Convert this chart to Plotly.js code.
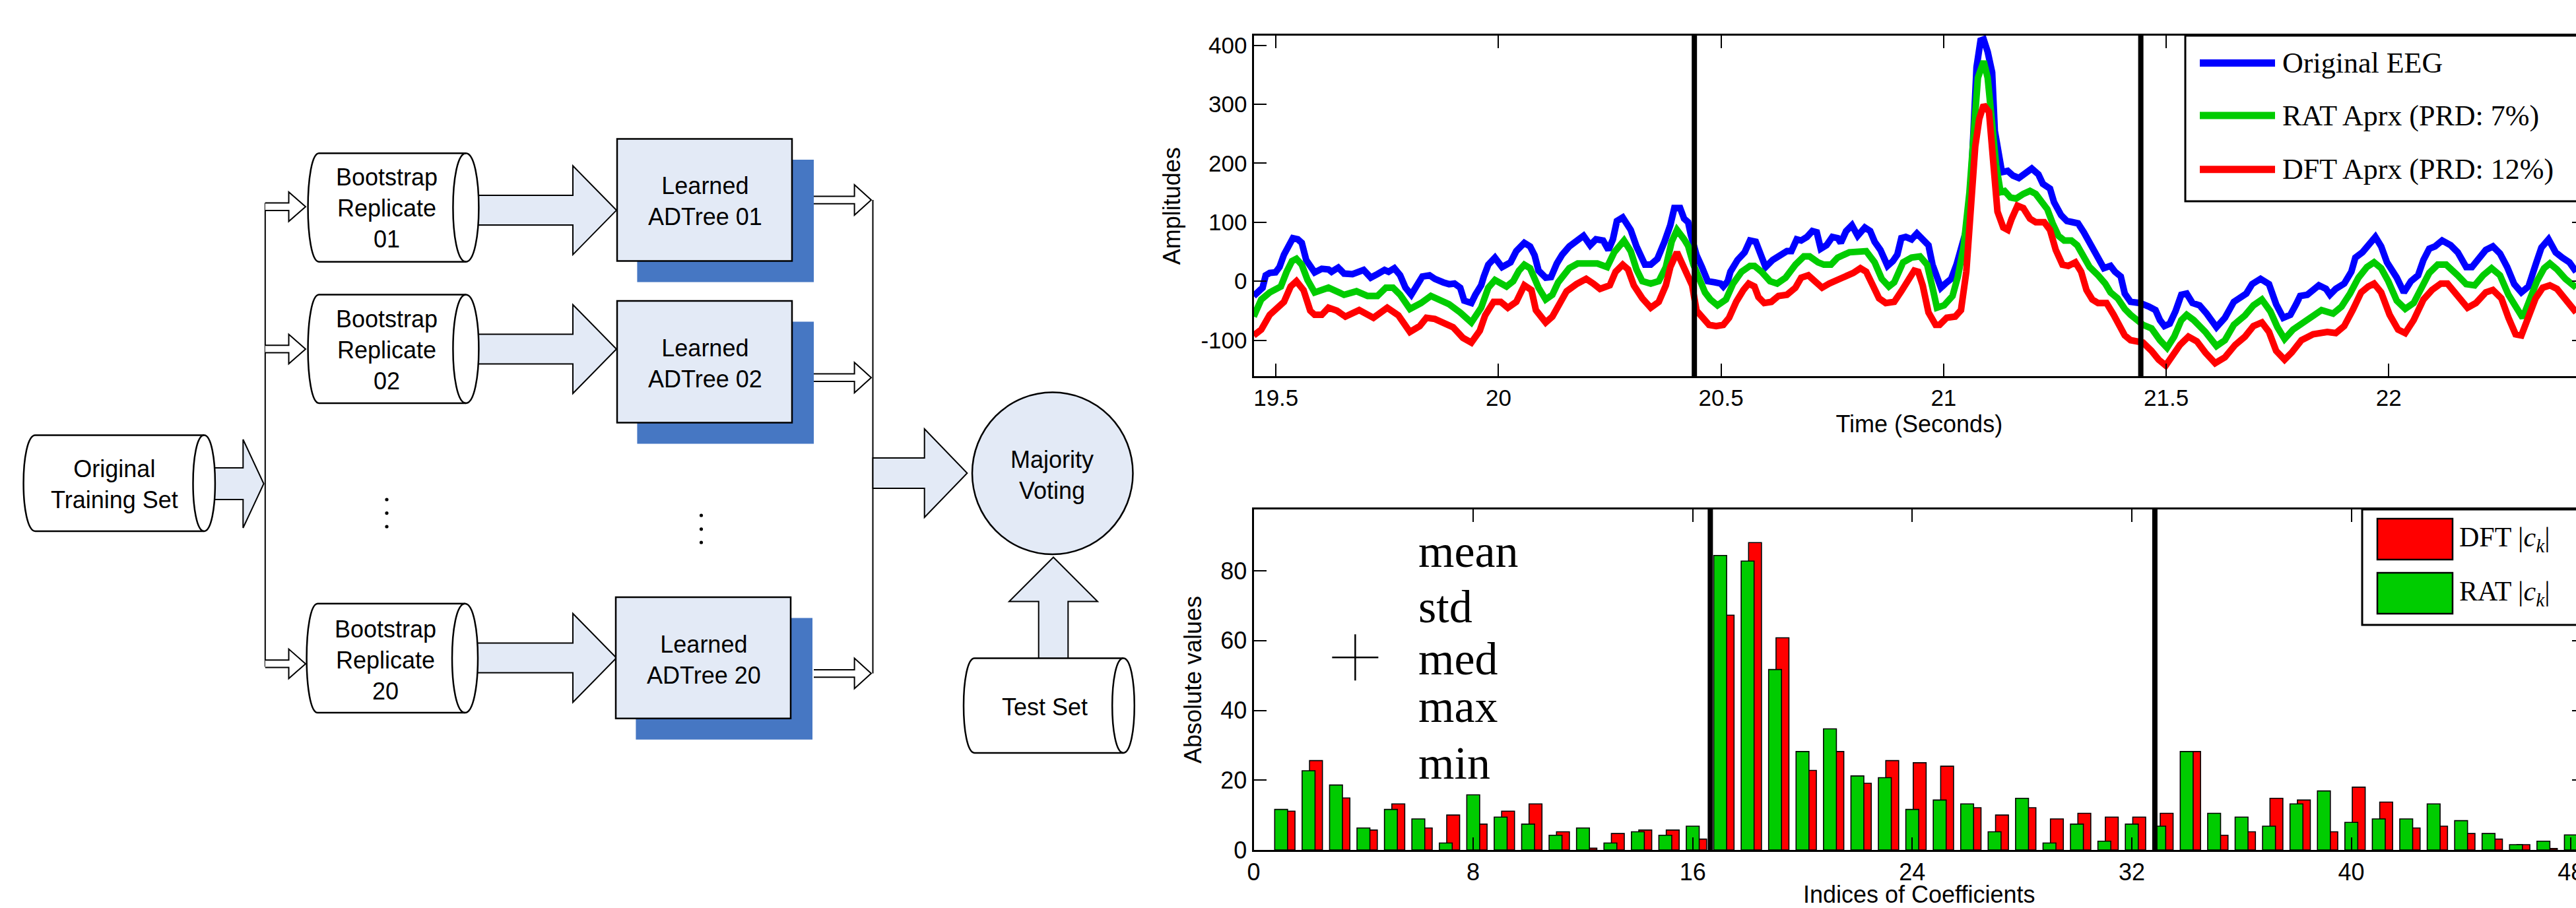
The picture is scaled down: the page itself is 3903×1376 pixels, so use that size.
<!DOCTYPE html>
<html><head><meta charset="utf-8">
<script src="https://cdn.plot.ly/plotly-3.0.1.min.js"></script>
<style>html,body{margin:0;padding:0;background:#fff;overflow:hidden;}#chart{width:3920px;height:1376px;}</style>
</head><body><div id="chart"></div>
<script>
// ---------------- DATA ----------------
const timeOriginal = [19.450,19.461,19.470,19.477,19.486,19.499,19.508,19.518,19.530,19.538,19.549,19.558,19.568,19.577,19.587,19.603,19.618,19.625,19.640,19.653,19.672,19.697,19.713,19.728,19.744,19.753,19.766,19.779,19.791,19.804,19.813,19.829,19.845,19.857,19.876,19.889,19.901,19.914,19.923,19.939,19.948,19.961,19.967,19.977,19.992,20.008,20.027,20.040,20.058,20.071,20.081,20.090,20.106,20.118,20.131,20.143,20.159,20.175,20.191,20.206,20.219,20.235,20.247,20.257,20.266,20.279,20.297,20.310,20.329,20.342,20.357,20.373,20.386,20.395,20.408,20.417,
20.426,20.432,20.445,20.457,20.470,20.486,20.499,20.505,20.515,20.521,20.537,20.553,20.565,20.578,20.588,20.600,20.616,20.632,20.648,20.658,20.670,20.680,20.693,20.705,20.715,20.724,20.737,20.750,20.762,20.769,20.781,20.794,20.807,20.823,20.835,20.845,20.858,20.874,20.886,20.896,20.905,20.915,20.928,20.940,20.953,20.966,20.975,20.985,20.994,21.004,21.017,21.029,21.042,21.051,21.061,21.067,21.074,21.083,21.090,21.099,21.109,21.115,21.125,21.131,21.144,21.156,21.169,21.185,21.198,21.213,21.223,21.239,21.248,21.264,21.277,21.290,21.302,21.315,21.328,21.344,21.360,21.375,21.385,21.398,21.407,21.420,
21.441,21.461,21.476,21.486,21.496,21.508,21.521,21.534,21.546,21.559,21.575,21.591,21.613,21.632,21.652,21.664,21.680,21.693,21.712,21.731,21.747,21.763,21.779,21.792,21.801,21.817,21.830,21.843,21.859,21.868,21.881,21.900,21.916,21.925,21.941,21.957,21.970,21.983,21.996,22.018,22.034,22.050,22.066,22.078,22.091,22.104,22.120,22.139,22.155,22.174,22.187,22.202,22.218,22.234,22.250,22.266,22.282,22.298,22.314,22.330,22.343,22.359,22.375,22.390,22.406,22.421];
const eegOriginal = [-25,-15,-11,10,14,15,24,45,59,73,71,65,36,24,15,21,20,16,23,13,12,19,6,12,19,16,22,10,-11,-23,-11,8,10,4,-2,-5,-4,-11,-33,-37,-23,-7,8,28,40,24,32,51,65,59,44,18,6,7,30,45,59,69,77,61,71,69,53,71,102,108,87,59,28,28,38,67,95,124,124,106,
100,79,44,24,0,-2,-4,-9,0,16,36,49,69,67,49,24,36,44,51,51,71,69,75,85,83,55,61,75,73,65,85,95,77,91,85,67,53,26,34,45,73,75,71,81,71,61,28,8,-11,-4,4,28,59,87,157,263,363,408,410,389,354,255,204,185,187,179,175,183,191,181,165,157,134,112,102,100,98,83,65,44,22,26,16,8,-21,-35,
-37,-43,-49,-66,-76,-72,-51,-23,-21,-37,-41,-55,-78,-62,-35,-29,-21,-5,4,-5,-39,-62,-57,-39,-25,-23,-15,-7,-13,-23,-13,-4,16,40,49,63,75,59,32,6,-19,0,10,36,55,59,69,61,49,24,24,38,53,59,47,24,-5,-19,-9,28,57,71,49,40,32,16];

const timeRat = [19.450,19.467,19.486,19.511,19.524,19.536,19.546,19.558,19.571,19.587,19.618,19.653,19.681,19.706,19.728,19.747,19.763,19.779,19.801,19.826,19.848,19.889,19.914,19.939,19.961,19.977,19.992,20.018,20.033,20.046,20.058,20.071,20.090,20.106,20.121,20.134,20.159,20.178,20.222,20.244,20.260,20.282,20.297,20.310,20.323,20.342,20.360,20.376,20.389,20.401,20.417,
20.426,20.438,20.451,20.464,20.476,20.492,20.511,20.527,20.546,20.565,20.575,20.591,20.610,20.626,20.645,20.667,20.686,20.699,20.718,20.731,20.747,20.762,20.788,20.807,20.826,20.845,20.861,20.877,20.889,20.909,20.928,20.947,20.963,20.975,20.985,21.001,21.020,21.032,21.045,21.058,21.067,21.077,21.090,21.099,21.109,21.118,21.128,21.137,21.150,21.163,21.179,21.194,21.207,21.220,21.233,21.245,21.258,21.271,21.287,21.300,21.312,21.328,21.347,21.363,21.375,21.391,21.407,21.420,
21.448,21.467,21.486,21.502,21.518,21.534,21.546,21.562,21.588,21.613,21.632,21.652,21.677,21.696,21.715,21.734,21.750,21.766,21.785,21.804,21.830,21.849,21.875,21.894,21.913,21.932,21.951,21.967,21.983,21.999,22.018,22.037,22.056,22.072,22.091,22.110,22.129,22.155,22.174,22.193,22.212,22.231,22.250,22.269,22.289,22.301,22.317,22.333,22.349,22.362,22.378,22.397,22.421];
const eegRat = [-60,-31,-19,-9,16,34,38,28,2,-19,-11,-23,-17,-25,-25,-11,-11,-23,-47,-37,-25,-39,-53,-70,-45,-11,2,-9,0,18,28,22,-11,-31,-23,-2,22,30,30,24,49,69,51,20,0,-4,0,24,67,87,71,
60,28,2,-19,-31,-41,-31,-4,16,26,26,16,0,-4,6,28,42,42,32,28,28,40,49,51,51,32,4,-9,-2,32,40,42,28,-11,-45,-41,-25,8,59,150,248,345,373,345,267,197,151,153,142,140,148,153,148,134,122,98,77,69,69,61,44,24,10,-4,-19,-29,-47,-57,
-74,-80,-100,-113,-94,-66,-57,-66,-86,-110,-100,-74,-58,-41,-31,-51,-78,-98,-82,-72,-58,-49,-55,-43,-21,6,24,32,22,0,-33,-47,-37,-11,14,28,28,10,-5,-7,10,22,10,-23,-51,-62,-31,0,22,30,20,4,-11];

const timeDft = [19.450,19.467,19.486,19.505,19.518,19.533,19.546,19.562,19.577,19.587,19.603,19.618,19.637,19.656,19.687,19.719,19.750,19.775,19.801,19.823,19.838,19.857,19.898,19.920,19.939,19.958,19.970,19.989,20.005,20.021,20.040,20.058,20.074,20.084,20.106,20.121,20.137,20.153,20.175,20.197,20.213,20.228,20.250,20.263,20.279,20.291,20.304,20.323,20.342,20.360,20.376,20.386,20.401,20.417,
20.426,20.435,20.445,20.461,20.473,20.489,20.505,20.518,20.534,20.550,20.562,20.575,20.584,20.597,20.613,20.629,20.648,20.667,20.680,20.696,20.712,20.727,20.743,20.762,20.781,20.797,20.813,20.826,20.839,20.855,20.870,20.889,20.905,20.921,20.934,20.943,20.953,20.966,20.982,20.991,21.007,21.026,21.039,21.051,21.061,21.071,21.080,21.090,21.102,21.112,21.121,21.134,21.144,21.153,21.166,21.179,21.194,21.207,21.226,21.239,21.252,21.267,21.280,21.296,21.309,21.321,21.334,21.347,21.366,21.382,21.395,21.407,21.420,
21.448,21.467,21.483,21.499,21.515,21.531,21.550,21.569,21.588,21.610,21.632,21.655,21.677,21.696,21.715,21.731,21.747,21.766,21.782,21.804,21.830,21.862,21.881,21.900,21.919,21.938,21.954,21.967,21.983,22.002,22.021,22.037,22.056,22.078,22.097,22.117,22.132,22.155,22.177,22.196,22.218,22.234,22.253,22.269,22.285,22.298,22.314,22.330,22.346,22.362,22.378,22.397,22.421];
const eegDft = [-92,-82,-57,-45,-35,-9,0,-15,-50,-57,-57,-45,-50,-60,-49,-62,-45,-58,-86,-76,-62,-64,-78,-96,-104,-84,-58,-35,-35,-45,-35,-7,-15,-49,-70,-60,-37,-17,-5,4,-4,-13,-7,16,28,20,-7,-29,-45,-35,-7,24,49,24,
8,-7,-50,-64,-74,-76,-74,-62,-35,-15,-4,-9,-27,-37,-35,-25,-23,-11,6,10,0,-11,-4,2,8,14,22,16,-4,-29,-37,-35,-17,2,18,16,-7,-53,-74,-74,-62,-60,-49,16,126,228,275,299,287,212,118,91,87,106,128,124,106,100,100,87,53,28,26,32,16,-15,-31,-37,-37,-57,-78,-92,-100,
-104,-118,-133,-143,-127,-108,-94,-102,-121,-139,-129,-108,-94,-76,-70,-86,-118,-133,-121,-100,-90,-86,-88,-76,-49,-19,-9,-4,-19,-57,-82,-88,-66,-31,-15,-4,-4,-27,-45,-37,-19,-15,-29,-62,-90,-92,-62,-29,-11,-7,-13,-29,-53];

const coefIndex = [1,2,3,4,5,6,7,8,9,10,11,12,13,14,15,16,17,18,19,20,21,22,23,24,25,26,27,28,29,30,31,32,33,34,35,36,37,38,39,40,41,42,43,44,45,46,47,48];
const ratCoef = [11.6,22.7,18.6,6.3,11.6,8.9,2.0,15.8,9.4,7.4,4.2,6.3,2.0,5.2,4.2,6.8,84.4,82.8,51.7,28.2,34.7,21.2,20.7,11.6,14.3,13.2,5.2,14.8,2.0,7.4,2.5,7.4,6.8,28.2,10.5,9.4,6.8,13.2,16.9,7.9,8.9,8.9,13.2,8.4,4.7,1.5,2.5,4.3];
const dftCoef = [11.1,25.6,14.9,5.7,13.2,6.3,10.0,7.4,11.1,13.2,5.2,0.5,4.7,5.7,5.7,3.1,67.3,88.1,60.8,22.8,28.2,19.1,25.6,25.0,24.0,12.1,10.0,12.1,8.9,10.5,9.4,9.4,10.5,28.2,4.2,5.2,14.8,14.3,5.2,18.0,13.7,6.3,6.8,4.7,3.1,1.5,0.4,1.0];

const timeTickVals = [19.5,20,20.5,21,21.5,22];
const timeTickText = ['19.5','20','20.5','21','21.5','22'];
const ampTickVals = [-100,0,100,200,300,400];
const ampTickText = ['-100','0','100','200','300','400'];
const idxTickVals = [0,8,16,24,32,40,48];
const absTickVals = [0,20,40,60,80];
const segmentTimes = [20.44, 21.443];
const segmentIdx = [16.64, 32.84];
const medMarkerIdx = [3.7];
const medMarkerVal = [55.2];
const statLabels = ['mean','std','med','max','min'];

const seriesNames = ['Original EEG','RAT Aprx (PRD: 7%)','DFT Aprx (PRD: 12%)'];
const barNames = ['DFT |<i>c</i><sub><i>k</i></sub>|','RAT |<i>c</i><sub><i>k</i></sub>|'];

// ---------------- STYLE ----------------
const W = 3920, H = 1376;
const SANS = 'Liberation Sans, Arial, sans-serif';
const SERIF = 'Liberation Serif, Times New Roman, serif';
const BLUE = '#0000FF', GREEN = '#00CC00', RED = '#FF0000';
const LIGHT = '#E3EAF6', SHADOW = '#4677C3';

const xDom = [0.48457, 0.99898];

const traces = [
  {type:'scatter', mode:'lines', x:timeOriginal, y:eegOriginal, name:seriesNames[0], line:{color:BLUE, width:10}, xaxis:'x', yaxis:'y', showlegend:false},
  {type:'scatter', mode:'lines', x:timeRat, y:eegRat, name:seriesNames[1], line:{color:GREEN, width:10}, xaxis:'x', yaxis:'y', showlegend:false},
  {type:'scatter', mode:'lines', x:timeDft, y:eegDft, name:seriesNames[2], line:{color:RED, width:10}, xaxis:'x', yaxis:'y', showlegend:false},
  {type:'bar', x:coefIndex, y:dftCoef, name:'DFT |ck|', width:0.47, offset:0.035, marker:{color:RED, line:{color:'#000', width:1.6}}, xaxis:'x2', yaxis:'y2', showlegend:false},
  {type:'bar', x:coefIndex, y:ratCoef, name:'RAT |ck|', width:0.47, offset:-0.235, marker:{color:GREEN, line:{color:'#000', width:1.6}}, xaxis:'x2', yaxis:'y2', showlegend:false},
  {type:'scatter', mode:'markers', x:medMarkerIdx, y:medMarkerVal, name:'med', marker:{symbol:'cross-thin', size:50, color:'#000', line:{color:'#000', width:2.5}}, xaxis:'x2', yaxis:'y2', showlegend:false, hoverinfo:'skip'},
  {type:'scatter', mode:'markers', x:[], y:[], xaxis:'x3', yaxis:'y3', showlegend:false, hoverinfo:'skip'}
];

function axisCommon(extra){
  return Object.assign({
    showline:true, linecolor:'#000', linewidth:3, mirror:'ticks',
    ticks:'inside', ticklen:19, tickwidth:2, tickcolor:'#000',
    showgrid:false, zeroline:false, fixedrange:true,
    tickfont:{family:SANS, size:36, color:'#000'}
  }, extra);
}

// ---------------- FLOWCHART GEOMETRY (pixel space on x3/y3) ----------------
function arrowRight(xs, xh, xt, c, hs, hh){
  return `M${xs},${c-hs} L${xh},${c-hs} L${xh},${c-hh} L${xt},${c} L${xh},${c+hh} L${xh},${c+hs} L${xs},${c+hs} Z`;
}
function openArrowRight(xs, xh, xt, c, hs, hh){
  return `M${xs},${c-hs} L${xh},${c-hs} L${xh},${c-hh} L${xt},${c} L${xh},${c+hh} L${xh},${c+hs} L${xs},${c+hs}`;
}
function arrowUp(cx, yb, yh, yt, hs, hh){
  return `M${cx-hs},${yb} L${cx-hs},${yh} L${cx-hh},${yh} L${cx},${yt} L${cx+hh},${yh} L${cx+hs},${yh} L${cx+hs},${yb} Z`;
}
function cylBody(xl, b, xr, rx, y0, y1){
  const k = 4/3;
  return `M${xl},${y0} L${xr},${y0} C${xr+k*rx},${y0} ${xr+k*rx},${y1} ${xr},${y1} L${xl},${y1} C${xl-k*b},${y1} ${xl-k*b},${y0} ${xl},${y0} Z`;
}
function cylInner(xr, rx, y0, y1){
  const k = 4/3;
  return `M${xr},${y0} C${xr-k*rx},${y0} ${xr-k*rx},${y1} ${xr},${y1}`;
}
const shapes = [];
function P(path, fill, w){ shapes.push({type:'path', xref:'x3', yref:'y3', path:path, fillcolor:fill||'rgba(0,0,0,0)', line:{color:'#000', width:w||2.5}}); }
function R(x0,y0,x1,y1, fill, w){ shapes.push({type:'rect', xref:'x3', yref:'y3', x0,y0,x1,y1, fillcolor:fill, line:{color:'#000', width:w===undefined?2.5:w}}); }
function L(x0,y0,x1,y1,w,color){ shapes.push({type:'line', xref:'x3', yref:'y3', x0,y0,x1,y1, line:{color:color||'#000', width:w||2}}); }
function cylinder(xl,b,xr,rx,y0,y1){ P(cylBody(xl,b,xr,rx,y0,y1), '#fff', 2.5); P(cylInner(xr,rx,y0,y1), null, 2.5); }

P(arrowRight(300, 368.3, 399.6, 733, 24, 67), LIGHT, 2);
cylinder(53.6, 18, 309.2, 16.7, 659.6, 805);
L(401.8, 307.6, 401.8, 1010.4, 2);
[313.3, 528.9, 1005.9].forEach(c => P(openArrowRight(401.8, 437.5, 463, c, 5.7, 22.3), '#fff', 2));
[318.6, 529, 997].forEach(c => P(arrowRight(700, 868, 934, c, 22.5, 67.3), LIGHT, 2));
cylinder(483.3, 16.7, 705.9, 19.5, 232.3, 396.8);
cylinder(483.3, 16.7, 705.9, 19.5, 446.6, 611);
cylinder(481.3, 16.7, 704.5, 19.5, 914.7, 1080);
[[935,210.6,1200,395.6],[935,456,1200,640.5],[933,905,1198,1088.8]].forEach(b => {
  shapes.push({type:'rect', xref:'x3', yref:'y3', x0:b[0]+30.4, y0:b[1]+31.5, x1:b[2]+33, y1:b[3]+32, fillcolor:SHADOW, line:{width:0}});
  R(b[0], b[1], b[2], b[3], LIGHT, 2.5);
});
[[586,757],[586,777.6],[586,798],[1062.5,781],[1062.5,801.8],[1062.5,822]].forEach(d => {
  shapes.push({type:'circle', xref:'x3', yref:'y3', x0:d[0]-2.6, x1:d[0]+2.6, y0:d[1]-2.6, y1:d[1]+2.6, fillcolor:'#000', line:{width:0}});
});
[303.1, 572.2, 1020.6].forEach(c => P(openArrowRight(1233, 1294.6, 1320, c, 5.7, 23), '#fff', 2));
L(1322.5, 303.1, 1322.5, 1020.6, 2);
P(arrowRight(1322.5, 1400.7, 1465.4, 717, 23, 67), LIGHT, 2);
shapes.push({type:'circle', xref:'x3', yref:'y3', x0:1473, x1:1716.5, y0:594.5, y1:840, fillcolor:LIGHT, line:{color:'#000', width:2.5}});
P(arrowUp(1596, 1010, 911.5, 844.5, 22.3, 67), LIGHT, 2);
cylinder(1476.6, 16.6, 1702, 16.8, 997.6, 1141);

segmentTimes.forEach(t => shapes.push({type:'line', xref:'x', yref:'y domain', x0:t, x1:t, y0:0, y1:1, line:{color:'#000', width:8}}));
segmentIdx.forEach(t => shapes.push({type:'line', xref:'x2', yref:'y2 domain', x0:t, x1:t, y0:0, y1:1, line:{color:'#000', width:8}}));

R(3311, 54, 3960, 305, '#fff', 3);
const legY = [95.4, 175, 256.8];
[BLUE, GREEN, RED].forEach((c,i) => L(3333, legY[i], 3447, legY[i], 11, c));
R(3579, 772, 3960, 947, '#fff', 3);
R(3602, 786, 3716, 848, RED, 2.5);
R(3602, 868, 3716, 930, GREEN, 2.5);

// ---------------- ANNOTATIONS ----------------
const ann = [];
function T(text, x, y, size, family, xanchor){
  ann.push({text, x, y, xref:'x3', yref:'y3', showarrow:false, xanchor:xanchor||'center', yanchor:'middle', align:xanchor==='left'?'left':'center', font:{family:family||SANS, size:size||36, color:'#000'}});
}
T('Original<br>Training Set', 173, 734);
T('Bootstrap<br>Replicate<br>01', 586, 315.8);
T('Bootstrap<br>Replicate<br>02', 586, 530.8);
T('Bootstrap<br>Replicate<br>20', 584, 1000.8);
T('Learned<br>ADTree 01', 1068, 304.7);
T('Learned<br>ADTree 02', 1068, 550.9);
T('Learned<br>ADTree 20', 1066, 1000.2);
T('Majority<br>Voting', 1594, 719.5);
T('Test Set', 1583, 1071);
seriesNames.forEach((s,i) => T(s, 3456, legY[i], 44, SERIF, 'left'));
T(barNames[0], 3724, 817, 42, SERIF, 'left');
T(barNames[1], 3724, 899, 42, SERIF, 'left');
const statY = [835, 919, 998, 1070, 1156];
statLabels.forEach((s,i) => T(s, 2147, statY[i], 70, SERIF, 'left'));

const layout = {
  width:W, height:H, margin:{l:0,r:0,t:0,b:0},
  paper_bgcolor:'#fff', plot_bgcolor:'rgba(0,0,0,0)',
  barmode:'overlay', showlegend:false,
  xaxis: axisCommon({domain:xDom, range:[19.45,22.44], anchor:'y', tickvals:timeTickVals, ticktext:timeTickText, tickfont:{family:SANS,size:35,color:'#000'},
    title:{text:'Time (Seconds)', font:{family:SANS, size:36, color:'#000'}, standoff:9}}),
  yaxis: axisCommon({domain:[0.58554,0.96076], range:[-161.3,416.4], anchor:'x', tickvals:ampTickVals, ticktext:ampTickText, tickfont:{family:SANS,size:35,color:'#000'},
    title:{text:'Amplitudes', font:{family:SANS, size:36, color:'#000'}, standoff:20}}),
  xaxis2: axisCommon({domain:xDom, range:[0,48.5], anchor:'y2', tickvals:idxTickVals,
    title:{text:'Indices of Coefficients', font:{family:SANS, size:36, color:'#000'}, standoff:13}}),
  yaxis2: axisCommon({domain:[0.06395,0.43895], range:[0,97.6], anchor:'x2', tickvals:absTickVals,
    title:{text:'Absolute values', font:{family:SANS, size:36, color:'#000'}, standoff:18}}),
  xaxis3: {domain:[0,1], range:[0,W], anchor:'y3', visible:false, fixedrange:true},
  yaxis3: {domain:[0,1], range:[H,0], anchor:'x3', visible:false, fixedrange:true},
  shapes: shapes,
  annotations: ann
};
Plotly.newPlot('chart', traces, layout, {staticPlot:true, displayModeBar:false});
</script></body></html>
